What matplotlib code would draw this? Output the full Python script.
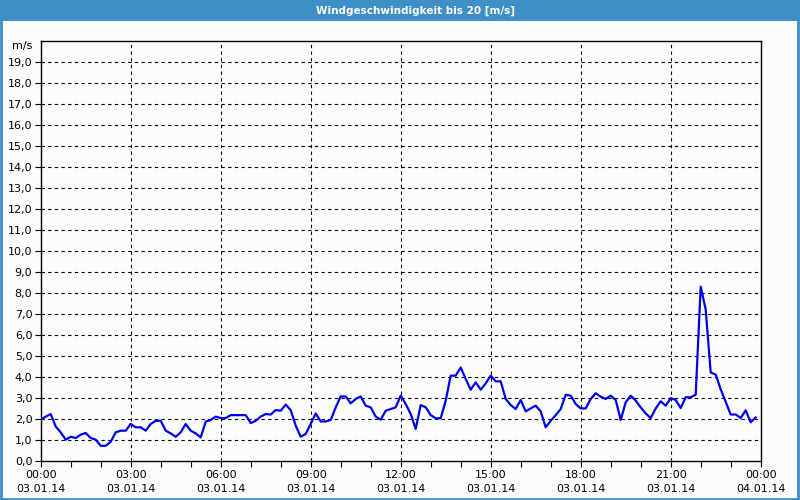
import numpy as np
import matplotlib
matplotlib.use('Agg')
import matplotlib.pyplot as plt
from matplotlib.patches import Rectangle

# Windgeschwindigkeit, 10-Minuten-Werte ab 03.01.14 00:00
wind = [1.95, 2.1, 2.22, 1.63, 1.35, 1.0, 1.14, 1.08, 1.24, 1.32,
        1.08, 1.0, 0.71, 0.71, 0.9, 1.35, 1.43, 1.43, 1.75, 1.59,
        1.59, 1.43, 1.75, 1.9, 1.9, 1.43, 1.3, 1.14, 1.35, 1.75,
        1.43, 1.3, 1.11, 1.86, 1.94, 2.1, 2.03, 2.03, 2.17, 2.17,
        2.17, 2.17, 1.79, 1.9, 2.1, 2.22, 2.2, 2.41, 2.38, 2.67,
        2.41, 1.67, 1.14, 1.27, 1.75, 2.25, 1.87, 1.87, 1.94, 2.54,
        3.06, 3.06, 2.73, 2.94, 3.06, 2.62, 2.54, 2.1, 1.95, 2.38,
        2.46, 2.54, 3.1, 2.7, 2.22, 1.51, 2.65, 2.54, 2.17, 2.02,
        2.02, 2.86, 4.05, 4.05, 4.44, 3.89, 3.38, 3.73, 3.38, 3.68,
        4.05, 3.78, 3.78, 2.94, 2.65, 2.46, 2.89, 2.35, 2.49, 2.62,
        2.35, 1.59, 1.9, 2.17, 2.46, 3.14, 3.1, 2.7, 2.49, 2.49,
        2.94, 3.21, 3.05, 2.94, 3.1, 2.89, 1.94, 2.78, 3.1, 2.86,
        2.54, 2.25, 2.03, 2.49, 2.83, 2.62, 2.98, 2.89, 2.51, 3.02,
        3.02, 3.14, 8.29, 7.2, 4.2, 4.1, 3.4, 2.8, 2.2, 2.2,
        2.03, 2.4, 1.83, 2.06]
hours = np.arange(len(wind)) / 6.0

xtick_hours = [0, 3, 6, 9, 12, 15, 18, 21, 24]
xtick_labels = ['00:00\n03.01.14', '03:00\n03.01.14', '06:00\n03.01.14',
                '09:00\n03.01.14', '12:00\n03.01.14', '15:00\n03.01.14',
                '18:00\n03.01.14', '21:00\n03.01.14', '00:00\n04.01.14']
ytick_vals = list(range(0, 20))

blue_frame = '#3d8fc6'
bg = '#fbfdfb'

fig = plt.figure(figsize=(8, 5), dpi=100, facecolor=bg)

# Titelleiste und Rahmen
fig.patches.append(Rectangle((0, 1 - 20.7 / 500), 1, 20.7 / 500, transform=fig.transFigure,
                             facecolor=blue_frame, edgecolor='none', zorder=0))
fig.patches.append(Rectangle((0.001, 0.002), 0.997, 0.997, transform=fig.transFigure,
                             facecolor='none', edgecolor=blue_frame, linewidth=2, zorder=0))
fig.text(415 / 800, 1 - 10.5 / 500, 'Windgeschwindigkeit bis 20 [m/s]', color='white',
         ha='center', va='center', fontsize=7.5, fontweight='bold', family='DejaVu Sans')

ax = fig.add_axes([40.7 / 800, 39.3 / 500, 720 / 800, 420 / 500])
ax.set_facecolor(bg)
ax.plot(hours, wind, color='#0000ee', linewidth=1.6, zorder=3)

ax.set_xlim(0, 24)
ax.set_ylim(0, 20)
ax.set_xticks(xtick_hours)
ax.set_xticklabels(xtick_labels, fontsize=8, linespacing=1.45)
ax.set_xticks(range(25), minor=True)
ax.set_yticks(ytick_vals)
ax.set_yticklabels([f'{v},0' for v in ytick_vals], fontsize=8)
ax.tick_params(axis='both', which='both', direction='out', length=4, width=0.8, color='black')
ax.tick_params(axis='x', pad=3)
ax.tick_params(axis='y', pad=2)

for h in xtick_hours[1:-1]:
    ax.axvline(h, color='black', linestyle=(0, (3, 3)), linewidth=0.8, zorder=1)
for v in range(1, 20):
    ax.axhline(v, color='black', linestyle=(0, (3, 3)), linewidth=0.8, zorder=1)

for s in ax.spines.values():
    s.set_linewidth(1.0)

ax.text(-0.012, 1.0, 'm/s', transform=ax.transAxes, ha='right', va='top', fontsize=8)

plt.savefig('out.png', dpi=100, facecolor=bg)
